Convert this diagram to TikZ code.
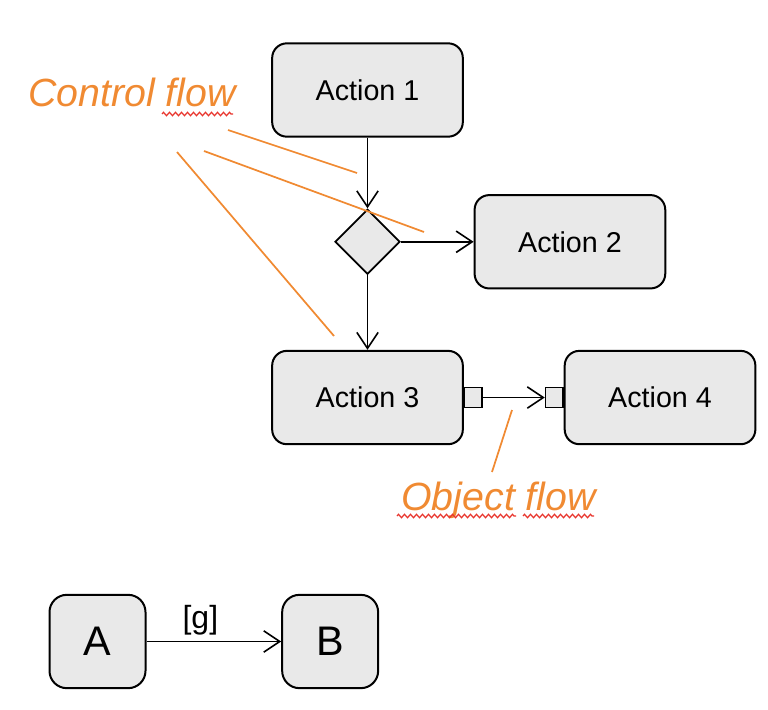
\documentclass[tikz,border=0pt]{standalone}
\usepackage{fontspec}
\setmainfont{Liberation Sans}
\usetikzlibrary{shapes.geometric, arrows.meta, positioning, decorations.pathmorphing}
\definecolor{notecol}{RGB}{240,138,50}
\definecolor{boxfill}{RGB}{233,233,233}
\definecolor{spellred}{RGB}{232,52,44}
\begin{document}
\begin{tikzpicture}[
    x=0.75pt, y=-0.75pt,
    >={Straight Barb[length=12pt,width=16pt]},
    act/.style={draw, fill=boxfill, line width=1.5pt, rounded corners=11pt, align=center,
      minimum width=143pt, minimum height=70pt, font=\fontsize{21.5}{25}\selectfont},
    state/.style={act, minimum width=72pt, rounded corners=13pt, font=\fontsize{31}{36}\selectfont},
    decide/.style={draw, fill=boxfill, line width=1.4pt, diamond, aspect=1, inner sep=0pt,
      minimum width=48.75pt, minimum height=48.75pt},
    pin/.style={draw, fill=boxfill, line width=1.2pt, inner sep=0pt, minimum width=13pt, minimum height=15pt},
    flow/.style={->, line width=1.2pt},
    note/.style={notecol, line width=1.3pt},
    notetext/.style={text=notecol, inner sep=0pt, anchor=base west, font=\fontsize{29.5}{34}\selectfont\itshape},
    wavy/.style={spellred, line width=0.9pt, decorate, decoration={zigzag, amplitude=1.3pt, segment length=4.5pt}}
]
\useasboundingbox (0,0) rectangle (768,710);

% activity part
\node[act] (act1) at (367.5,90) {Action 1};
\node[decide, below=53pt of act1] (dec) {};
\node[act, right=54.5pt of dec] (act2) {Action 2};
\node[act, below=56pt of dec] (act3) {Action 3};
\node[pin, right=0pt of act3] (pin3) {};
\node[pin, right=46.5pt of pin3] (pin4) {};
\node[act, right=0pt of pin4] (act4) {Action 4};

\draw[flow] (act1) -- (dec);
\draw[flow] (dec) -- (act2);
\draw[flow] (dec) -- (act3);
\draw[flow] (pin3) -- (pin4);

% notes
\node[notetext] (cflow) at (28,107) {Control flow};
\node[notetext] (oflow) at (401,510) {Object flow};
\coordinate (c1a) at (228,130); \coordinate (c1b) at (357,173);
\coordinate (c2a) at (204,151); \coordinate (c2b) at (424,232);
\coordinate (c3a) at (177,152); \coordinate (c3b) at (334,336);
\coordinate (o1a) at (492,472); \coordinate (o1b) at (512,410);
\draw[note] (c1a) -- (c1b);
\draw[note] (c2a) -- (c2b);
\draw[note] (c3a) -- (c3b);
\draw[note] (o1a) -- (o1b);

% spell check marks
\draw[wavy] (162,114) -- (233,114);
\draw[wavy] (397,516) -- (516,516);
\draw[wavy] (523,516) -- (594,516);

% guard example
\node[state] (sa) at (97.5,641.5) {A};
\node[state, right=101pt of sa] (sb) {B};
\draw[flow] (sa) -- node[pos=0.4, above=1pt, font=\fontsize{24}{28}\selectfont] (guard) {[g]} (sb);
\end{tikzpicture}
\end{document}
